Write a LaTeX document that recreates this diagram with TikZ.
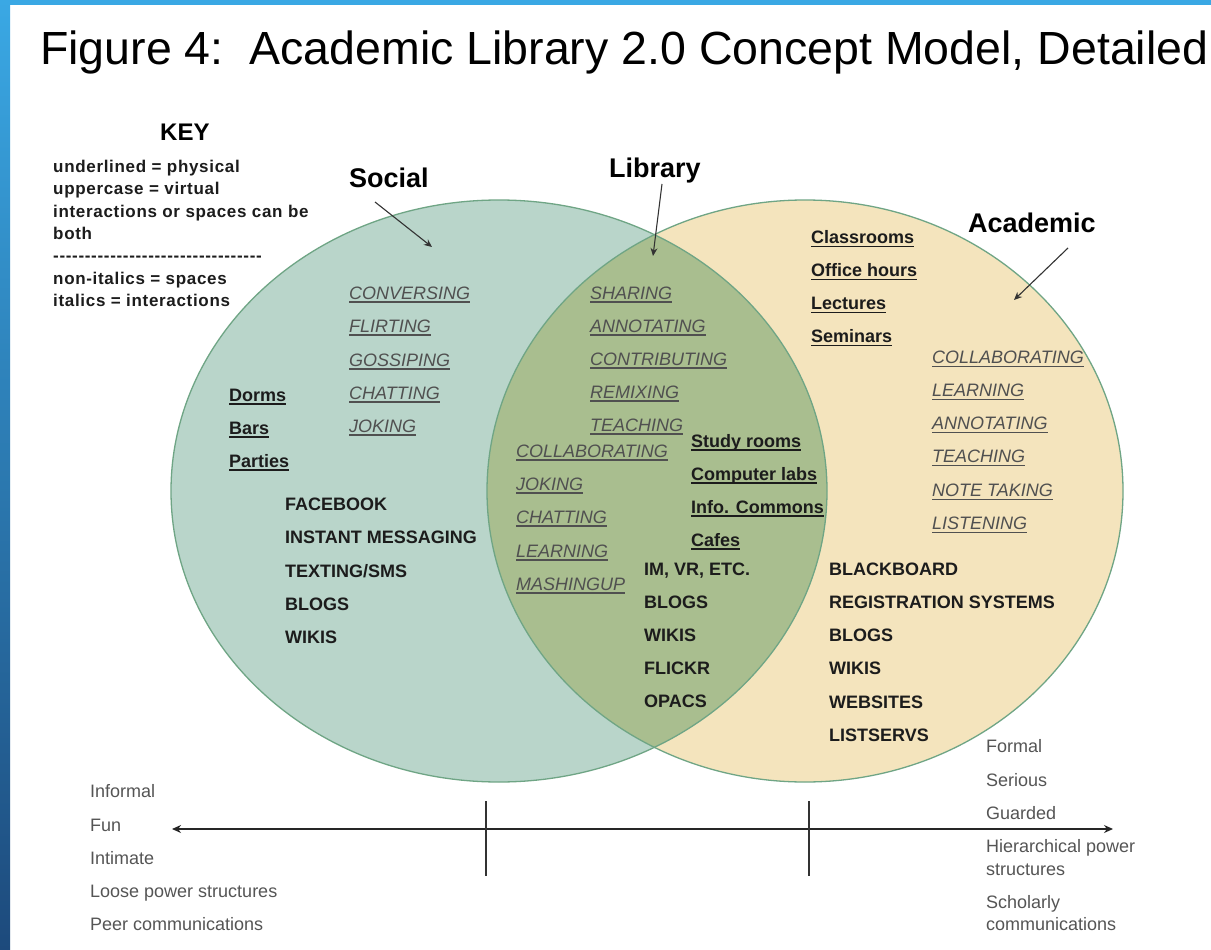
\documentclass[tikz,border=0pt]{standalone}
\usepackage{fontspec}
\setmainfont{Liberation Sans}
\newfontfamily\keyfam{Liberation Sans}[LetterSpace=4]
\usetikzlibrary{arrows.meta}
\definecolor{socfill}{HTML}{B9D5CA}
\definecolor{acafill}{HTML}{F4E4BD}
\definecolor{lensfill}{HTML}{A9BE8F}
\definecolor{ringc}{HTML}{6FA585}
\definecolor{txtc}{HTML}{1C1C1C}
\definecolor{itc}{HTML}{505050}
\definecolor{axc}{HTML}{555555}
\definecolor{arrc}{HTML}{333333}
\definecolor{bluetop}{HTML}{3AA8E4}
\definecolor{bluebot}{HTML}{1D4A7C}
\newcommand\myul[1]{\setbox0=\hbox{#1}\leavevmode\rlap{\raisebox{-3.5pt}{\rule{\wd0}{1.4pt}}}\box0}
\tikzset{
  lbl/.style={inner sep=0pt, anchor=base west},
  phys/.style={lbl, font=\fontsize{18}{20}\selectfont\bfseries, text=txtc},
  virt/.style={lbl, font=\fontsize{18}{20}\selectfont\bfseries, text=txtc},
  inter/.style={lbl, font=\fontsize{18}{20}\selectfont\itshape, text=itc},
  headlbl/.style={lbl, font=\fontsize{27}{30}\selectfont\bfseries, text=black},
  keylbl/.style={lbl, font=\keyfam\fontsize{17}{20}\selectfont\bfseries, text=txtc},
  axlbl/.style={lbl, font=\fontsize{18}{20}\selectfont, text=axc},
  pointer/.style={-{Stealth[length=8pt,width=7pt]}, draw=arrc, line width=1.1pt},
  ring/.style={draw=ringc, line width=1.3pt},
}
\begin{document}
\begin{tikzpicture}[x=1pt,y=-1pt]
\useasboundingbox (0,0) rectangle (1211,950);
\fill[white] (0,0) rectangle (1211,950);
% frame
\shade[top color=bluetop, bottom color=bluebot] (0,0) rectangle (10,950);
\fill[bluetop] (0,0) rectangle (1211,5);
% title
\node[lbl, font=\fontsize{46.5}{50}\selectfont, text=black] (title) at (40,65) {Figure 4:\ \ Academic Library 2.0 Concept Model, Detailed};
% venn
\fill[socfill] (499,491) ellipse [x radius=328, y radius=291];
\fill[acafill] (805,491) ellipse [x radius=318, y radius=291];
\begin{scope}
  \clip (499,491) ellipse [x radius=328, y radius=291];
  \fill[lensfill] (805,491) ellipse [x radius=318, y radius=291];
\end{scope}
\draw[ring] (499,491) ellipse [x radius=328, y radius=291];
\draw[ring] (805,491) ellipse [x radius=318, y radius=291];
% key
\node[lbl, font=\fontsize{24}{26}\selectfont\bfseries] (key) at (160,140) {KEY};
\node[keylbl] (k1) at (53,172) {underlined = physical};
\node[keylbl] (k2) at (53,194) {uppercase = virtual};
\node[keylbl] (k3) at (53,217) {interactions or spaces can be};
\node[keylbl] (k4) at (53,239) {both};
\node[keylbl] (k5) at (53,261) {-{}-{}-{}-{}-{}-{}-{}-{}-{}-{}-{}-{}-{}-{}-{}-{}-{}-{}-{}-{}-{}-{}-{}-{}-{}-{}-{}-{}-{}-{}-{}-{}-};
\node[keylbl] (k6) at (53,284) {non-italics = spaces};
\node[keylbl] (k7) at (53,306) {italics = interactions};
% headers and pointers
\node[headlbl] (social) at (349,187) {Social};
\node[headlbl] (library) at (609,177) {Library};
\node[headlbl] (academic) at (968,232) {Academic};
\coordinate (socS) at (375,202);
\coordinate (socT) at (432,247);
\coordinate (libS) at (662,184);
\coordinate (libT) at (653,256);
\coordinate (acaS) at (1068,248);
\coordinate (acaT) at (1014,300);
\draw[pointer] (socS) -- (socT);
\draw[pointer] (libS) -- (libT);
\draw[pointer] (acaS) -- (acaT);
% social circle
\node[inter] (s1) at (349,299) {\myul{CONVERSING}};
\node[inter] (s2) at (349,332) {\myul{FLIRTING}};
\node[inter] (s3) at (349,366) {\myul{GOSSIPING}};
\node[inter] (s4) at (349,399) {\myul{CHATTING}};
\node[inter] (s5) at (349,432) {\myul{JOKING}};
\node[phys] (s6) at (229,401) {\myul{Dorms}};
\node[phys] (s7) at (229,434) {\myul{Bars}};
\node[phys] (s8) at (229,467) {\myul{Parties}};
\node[virt] (s9) at (285,510) {FACEBOOK};
\node[virt] (s10) at (285,543) {INSTANT MESSAGING};
\node[virt] (s11) at (285,577) {TEXTING/SMS};
\node[virt] (s12) at (285,610) {BLOGS};
\node[virt] (s13) at (285,643) {WIKIS};
% library lens
\node[inter] (l1) at (590,299) {\myul{SHARING}};
\node[inter] (l2) at (590,332) {\myul{ANNOTATING}};
\node[inter] (l3) at (590,365) {\myul{CONTRIBUTING}};
\node[inter] (l4) at (590,398) {\myul{REMIXING}};
\node[inter] (l5) at (590,431) {\myul{TEACHING}};
\node[inter] (l6) at (516,457) {\myul{COLLABORATING}};
\node[inter] (l7) at (516,490) {\myul{JOKING}};
\node[inter] (l8) at (516,523) {\myul{CHATTING}};
\node[inter] (l9) at (516,557) {\myul{LEARNING}};
\node[inter] (l10) at (516,590) {\myul{MASHINGUP}};
\node[phys] (l11) at (691,447) {\myul{Study rooms}};
\node[phys] (l12) at (691,480) {\myul{Computer labs}};
\node[phys] (l13) at (691,513) {\myul{Info. Commons}};
\node[phys] (l14) at (691,546) {\myul{Cafes}};
\node[virt] (l15) at (644,575) {IM, VR, ETC.};
\node[virt] (l16) at (644,608) {BLOGS};
\node[virt] (l17) at (644,641) {WIKIS};
\node[virt] (l18) at (644,674) {FLICKR};
\node[virt] (l19) at (644,707) {OPACS};
% academic circle
\node[phys] (a1) at (811,243.5) {\myul{Classrooms}};
\node[phys] (a2) at (811,276.5) {\myul{Office hours}};
\node[phys] (a3) at (811,309.5) {\myul{Lectures}};
\node[phys] (a4) at (811,342.5) {\myul{Seminars}};
\node[inter] (a5) at (932,363.5) {\myul{COLLABORATING}};
\node[inter] (a6) at (932,396.5) {\myul{LEARNING}};
\node[inter] (a7) at (932,429.5) {\myul{ANNOTATING}};
\node[inter] (a8) at (932,462.5) {\myul{TEACHING}};
\node[inter] (a9) at (932,496.5) {\myul{NOTE TAKING}};
\node[inter] (a10) at (932,529.5) {\myul{LISTENING}};
\node[virt] (a11) at (829,575.5) {BLACKBOARD};
\node[virt] (a12) at (829,608.5) {REGISTRATION SYSTEMS};
\node[virt] (a13) at (829,641.5) {BLOGS};
\node[virt] (a14) at (829,674.5) {WIKIS};
\node[virt] (a15) at (829,708.5) {WEBSITES};
\node[virt] (a16) at (829,741.5) {LISTSERVS};
% axis
\coordinate (axL) at (172,829);
\coordinate (axR) at (1113,829);
\coordinate (t1a) at (486,801);
\coordinate (t1b) at (486,876);
\coordinate (t2a) at (809,801);
\coordinate (t2b) at (809,876);
\draw[{Stealth[length=9pt,width=8pt]}-{Stealth[length=9pt,width=8pt]}, draw=black!85, line width=1.4pt] (axL) -- (axR);
\draw[draw=arrc, line width=1.1pt] (t1a) -- (t1b);
\draw[draw=arrc, line width=1.1pt] (t2a) -- (t2b);
\node[axlbl] (b1) at (90,797.5) {Informal};
\node[axlbl] (b2) at (90,831.5) {Fun};
\node[axlbl] (b3) at (90,864) {Intimate};
\node[axlbl] (b4) at (90,897.5) {Loose power structures};
\node[axlbl] (b5) at (90,930) {Peer communications};
\node[axlbl] (c1) at (986,752.5) {Formal};
\node[axlbl] (c2) at (986,786.5) {Serious};
\node[axlbl] (c3) at (986,819) {Guarded};
\node[axlbl] (c4) at (986,852) {Hierarchical power};
\node[axlbl] (c5) at (986,875) {structures};
\node[axlbl] (c6) at (986,908) {Scholarly};
\node[axlbl] (c7) at (986,930) {communications};
\end{tikzpicture}
\end{document}
